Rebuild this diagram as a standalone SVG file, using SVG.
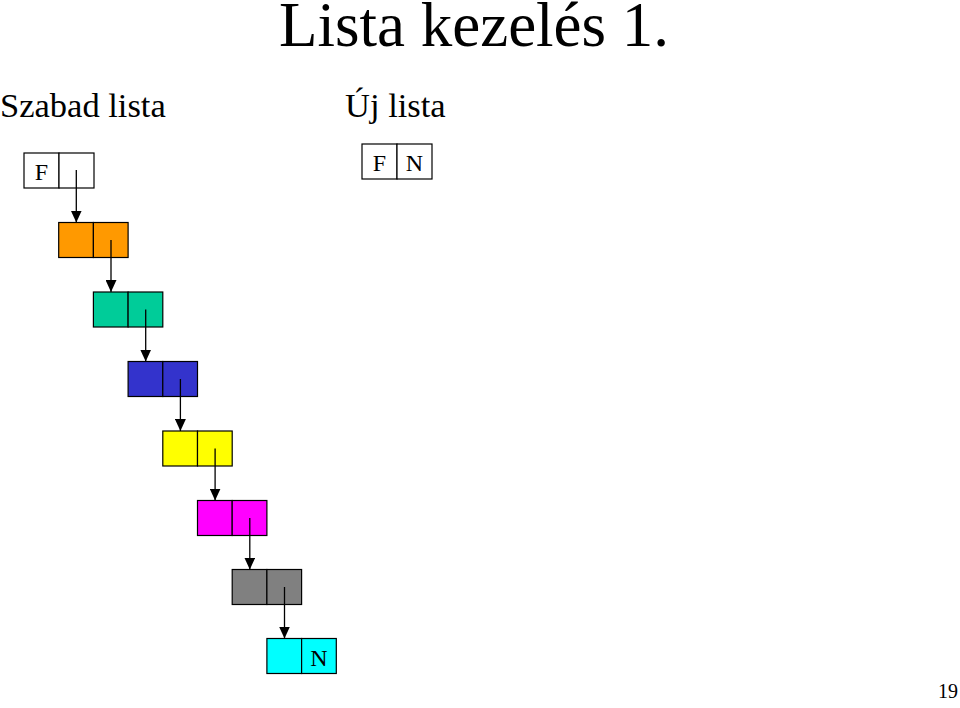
<svg xmlns="http://www.w3.org/2000/svg" width="960" height="708" viewBox="0 0 960 708">
<style>
.t{font-family:"Liberation Serif","Times New Roman",serif;fill:#000}
.cell{stroke:#000;stroke-width:1.2}
.lnk{stroke:#000;stroke-width:1.3;fill:none}
</style>
<defs>
<marker id="ah" viewBox="0 0 10 10" refX="10" refY="5" markerWidth="12" markerHeight="11" markerUnits="userSpaceOnUse" orient="auto" preserveAspectRatio="none">
<path d="M0,0 L10,5 L0,10 z" fill="#000"/>
</marker>
</defs>
<rect width="960" height="708" fill="#fff"/>
<text class="t" x="279" y="46" font-size="63">Lista kezelés 1.</text>
<text class="t" x="0" y="117" font-size="34.5">Szabad lista</text>
<text class="t" x="345" y="117" font-size="34.5">Új lista</text>
<text class="t" x="938" y="698" font-size="20">19</text>

<g id="uj">
<rect class="cell" x="362" y="144" width="35" height="35" fill="#fff"/>
<rect class="cell" x="397" y="144" width="35" height="35" fill="#fff"/>
<text class="t" x="379.5" y="171" font-size="24" text-anchor="middle">F</text>
<text class="t" x="414.5" y="171" font-size="24" text-anchor="middle">N</text>
</g>

<g id="n0">
<rect class="cell" x="24" y="153" width="35" height="35" fill="#fff"/>
<rect class="cell" x="59" y="153" width="35" height="35" fill="#fff"/>
<text class="t" x="41.5" y="180" font-size="24" text-anchor="middle">F</text>
</g>
<g id="n1">
<rect class="cell" x="58.7" y="222.5" width="34.7" height="35" fill="#FF9900"/>
<rect class="cell" x="93.4" y="222.5" width="34.7" height="35" fill="#FF9900"/>
</g>
<g id="n2">
<rect class="cell" x="93.4" y="292" width="34.7" height="35" fill="#00CC99"/>
<rect class="cell" x="128.1" y="292" width="34.7" height="35" fill="#00CC99"/>
</g>
<g id="n3">
<rect class="cell" x="128.1" y="361.5" width="34.7" height="35" fill="#3333CC"/>
<rect class="cell" x="162.8" y="361.5" width="34.7" height="35" fill="#3333CC"/>
</g>
<g id="n4">
<rect class="cell" x="162.8" y="431" width="34.7" height="35" fill="#FFFF00"/>
<rect class="cell" x="197.5" y="431" width="34.7" height="35" fill="#FFFF00"/>
</g>
<g id="n5">
<rect class="cell" x="197.5" y="500.5" width="34.7" height="35" fill="#FF00FF"/>
<rect class="cell" x="232.2" y="500.5" width="34.7" height="35" fill="#FF00FF"/>
</g>
<g id="n6">
<rect class="cell" x="232.2" y="569.5" width="34.7" height="35" fill="#808080"/>
<rect class="cell" x="266.9" y="569.5" width="34.7" height="35" fill="#808080"/>
</g>
<g id="n7">
<rect class="cell" x="266.9" y="638.5" width="34.7" height="35" fill="#00FFFF"/>
<rect class="cell" x="301.6" y="638.5" width="34.7" height="35" fill="#00FFFF"/>
<text class="t" x="319" y="665.5" font-size="24" text-anchor="middle">N</text>
</g>

<g id="connectors">
<line class="lnk" x1="76.3" y1="170" x2="76.3" y2="222.5" marker-end="url(#ah)"/>
<line class="lnk" x1="111" y1="240" x2="111" y2="292" marker-end="url(#ah)"/>
<line class="lnk" x1="145.7" y1="309.5" x2="145.7" y2="361.5" marker-end="url(#ah)"/>
<line class="lnk" x1="180.4" y1="379" x2="180.4" y2="431" marker-end="url(#ah)"/>
<line class="lnk" x1="215.1" y1="448.5" x2="215.1" y2="500.5" marker-end="url(#ah)"/>
<line class="lnk" x1="249.8" y1="518" x2="249.8" y2="569.5" marker-end="url(#ah)"/>
<line class="lnk" x1="284.5" y1="587" x2="284.5" y2="638.5" marker-end="url(#ah)"/>
</g>
</svg>
